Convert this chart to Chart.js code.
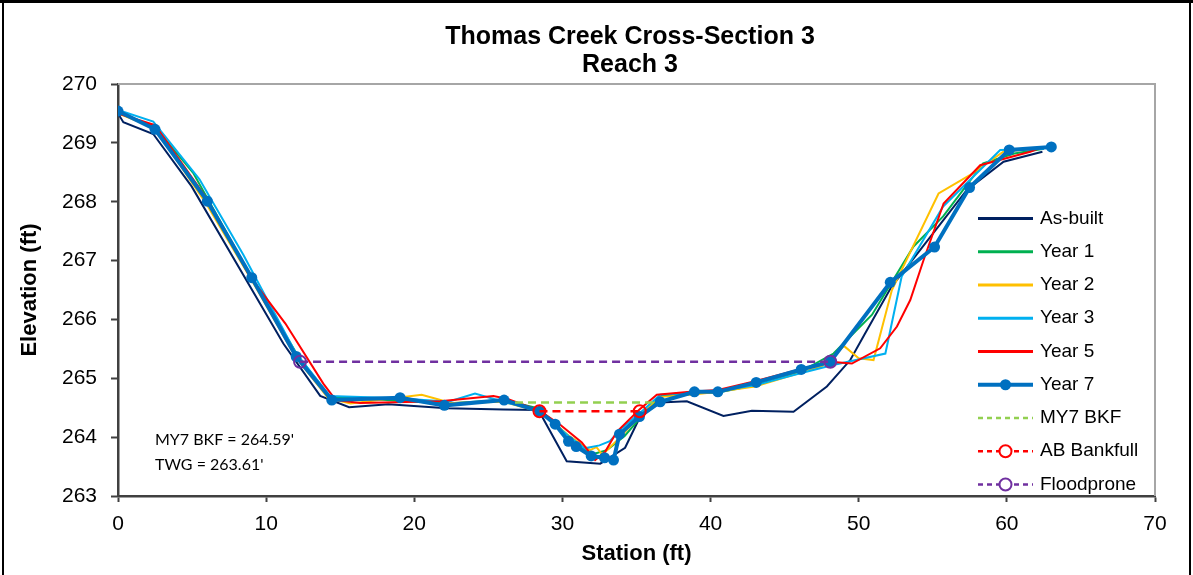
<!DOCTYPE html>
<html>
<head>
<meta charset="utf-8">
<script src="https://cdn.jsdelivr.net/npm/chart.js@4.4.0/dist/chart.umd.min.js"></script>
<style>
  html, body { margin: 0; padding: 0; background: #ffffff; }
  canvas { display: block; }
</style>
</head>
<body>
<canvas id="xs" width="1193" height="575"></canvas>
<script>
// Survey elevations along the cross-section (station ft, elevation ft)
const asBuiltSta  = [0, 0.36, 2.38, 4.97, 11.16, 13.65, 15.6, 18.25, 22.2, 26.02, 28.38, 30.29, 32.55, 34.23, 35.25, 36.6, 38.4, 40.87, 42.79, 45.6, 47.85, 49.43, 50.4, 52.2, 57.3, 59.78, 62.4];
const asBuiltElev = [269.5, 269.35, 269.15, 268.26, 265.59, 264.70, 264.51, 264.56, 264.49, 264.47, 264.46, 263.59, 263.55, 263.82, 264.35, 264.59, 264.61, 264.36, 264.45, 264.43, 264.86, 265.31, 265.75, 266.55, 268.2, 268.68, 268.85];

const year1Sta  = [0, 2.5, 5.1, 9.0, 12.1, 14.3, 19, 22.2, 26.0, 28.4, 30.5, 31.9, 33.0, 34.2, 35.5, 36.7, 38.9, 40.5, 43, 46, 48.3, 50.9, 53.7, 55.7, 58.4, 60.5, 62.5];
const year1Elev = [269.52, 269.27, 268.48, 266.72, 265.4, 264.68, 264.62, 264.57, 264.63, 264.49, 264.0, 263.70, 263.78, 264.02, 264.4, 264.7, 264.75, 264.76, 264.88, 265.1, 265.42, 266.08, 267.24, 267.75, 268.65, 268.82, 268.9];

const year2Sta  = [0, 2.5, 6.0, 9.0, 12.0, 14.2, 15.7, 20.5, 22.5, 26, 28.5, 30.3, 31.86, 32.3, 32.7, 33.7, 35.2, 36.5, 39, 40.5, 43, 45.5, 47.5, 49.0, 50.0, 51.0, 52.24, 55.39, 57.5, 59.76, 62.5];
const year2Elev = [269.5, 269.25, 267.95, 266.68, 265.36, 264.66, 264.57, 264.72, 264.58, 264.6, 264.43, 264.05, 263.78, 263.83, 263.70, 263.95, 264.35, 264.68, 264.73, 264.77, 264.86, 265.05, 265.2, 265.55, 265.34, 265.31, 266.5, 268.14, 268.45, 268.85, 268.92];

const year3Sta  = [0, 2.38, 5.5, 8.46, 12.0, 14.3, 19, 22.3, 24.1, 26.3, 28.4, 30.5, 31.5, 32.5, 33.2, 34.0, 35.2, 36.6, 39, 40.5, 43, 46, 48.2, 51.8, 52.9, 55.7, 59.55, 62.5];
const year3Elev = [269.56, 269.36, 268.38, 267.1, 265.43, 264.7, 264.66, 264.6, 264.74, 264.58, 264.46, 264.0, 263.81, 263.86, 263.93, 264.15, 264.4, 264.72, 264.76, 264.78, 264.88, 265.08, 265.22, 265.42, 266.73, 267.92, 268.88, 268.9];

const year5Sta  = [0, 2.5, 6.0, 8.9, 11.3, 13.86, 14.7, 16.34, 21.74, 25.34, 26.3, 28.45, 29.85, 31.31, 32.21, 32.88, 33.67, 35.2, 36.37, 38.62, 40.5, 43, 46, 48.08, 49.54, 51.45, 52.58, 53.48, 54.38, 55.73, 58.2, 61.58, 62.3];
const year5Elev = [269.5, 269.3, 268.05, 266.73, 265.93, 264.91, 264.63, 264.58, 264.61, 264.70, 264.65, 264.45, 264.21, 263.91, 263.61, 263.75, 264.09, 264.47, 264.72, 264.77, 264.8, 264.95, 265.15, 265.28, 265.25, 265.51, 265.88, 266.33, 267.01, 267.97, 268.62, 268.85, 268.92];

const year7Sta  = [0, 2.5, 6.03, 9.03, 12.03, 14.43, 19.04, 22.03, 26.06, 28.45, 29.51, 30.41, 30.93, 31.94, 32.84, 33.45, 33.85, 35.2, 36.6, 38.91, 40.49, 43.08, 46.12, 48.08, 52.13, 55.12, 57.48, 60.16, 63.0];
const year7Elev = [269.54, 269.23, 268.01, 266.71, 265.37, 264.63, 264.67, 264.54, 264.63, 264.44, 264.22, 263.93, 263.84, 263.68, 263.65, 263.61, 264.05, 264.35, 264.60, 264.77, 264.77, 264.93, 265.15, 265.28, 266.63, 267.23, 268.24, 268.88, 268.93];

// Reference water levels
const bkfElev = 264.59;        // MY7 bankfull
const twgElev = 263.61;        // thalweg
const bkfSta  = [26.8, 36.4];
const abBankfullElev = 264.44;
const abBankfullSta  = [28.45, 35.22];
const floodproneElev = 265.28;
const floodproneSta  = [12.29, 48.08];

// Axis ticks
const stationTicks   = [0, 10, 20, 30, 40, 50, 60, 70];
const elevationTicks = [263, 264, 265, 266, 267, 268, 269, 270];

const titleLines = ['Thomas Creek Cross-Section 3', 'Reach 3'];
const notes = ["MY7 BKF = " + bkfElev.toFixed(2) + "'", "TWG = " + twgElev.toFixed(2) + "'"];

const pts = (sta, elev) => sta.map((s, i) => ({ x: s, y: Array.isArray(elev) ? elev[i] : elev }));

const surveyLine = (label, sta, elev, color, order) => ({
  label, data: pts(sta, elev), showLine: true, borderColor: color, backgroundColor: color,
  borderWidth: 2, pointRadius: 0, tension: 0, order
});

const datasets = [
  surveyLine('As-built', asBuiltSta, asBuiltElev, '#002060', 9),
  surveyLine('Year 1', year1Sta, year1Elev, '#00B050', 8),
  surveyLine('Year 2', year2Sta, year2Elev, '#FFC000', 7),
  surveyLine('Year 3', year3Sta, year3Elev, '#00B0F0', 6),
  surveyLine('Year 5', year5Sta, year5Elev, '#FF0000', 5),
  {
    label: 'Year 7', data: pts(year7Sta, year7Elev), showLine: true,
    borderColor: '#0070C0', backgroundColor: '#0070C0', borderWidth: 4,
    pointRadius: 5.5, pointBorderWidth: 0, pointBackgroundColor: '#0070C0', tension: 0, order: 4
  },
  {
    label: 'MY7 BKF', data: pts(bkfSta, bkfElev), showLine: true,
    borderColor: '#92D050', backgroundColor: '#92D050', borderWidth: 2.5, borderDash: [8, 5],
    pointRadius: 0, order: 3
  },
  {
    label: 'AB Bankfull', data: pts(abBankfullSta, abBankfullElev), showLine: true,
    borderColor: '#FF0000', backgroundColor: 'rgba(0,0,0,0)', borderWidth: 2.5, borderDash: [8, 5],
    pointRadius: 6, pointBorderWidth: 2, pointBorderColor: '#FF0000', pointBackgroundColor: 'rgba(0,0,0,0)', order: 2
  },
  {
    label: 'Floodprone', data: pts(floodproneSta, floodproneElev), showLine: true,
    borderColor: '#7030A0', backgroundColor: 'rgba(0,0,0,0)', borderWidth: 2.5, borderDash: [8, 5],
    pointRadius: 6, pointBorderWidth: 2, pointBorderColor: '#7030A0', pointBackgroundColor: 'rgba(0,0,0,0)', order: 1
  }
];

const AXIS_FONT = 'Liberation Sans, Arial, sans-serif';

// Outer frame, plot border, title, notes and the legend
const decorations = {
  id: 'decorations',
  beforeDraw(chart) {
    const ctx = chart.ctx;
    ctx.save();
    ctx.fillStyle = '#ffffff';
    ctx.fillRect(0, 0, chart.width, chart.height);
    ctx.restore();
  },
  beforeDatasetsDraw(chart) {
    const { ctx, chartArea: a } = chart;
    ctx.save();
    ctx.strokeStyle = '#A6A6A6';
    ctx.lineWidth = 2;
    ctx.beginPath();
    ctx.moveTo(a.left, a.top);
    ctx.lineTo(a.right, a.top);
    ctx.lineTo(a.right, a.bottom);
    ctx.stroke();
    ctx.restore();
  },
  afterDraw(chart) {
    const { ctx } = chart;
    ctx.save();
    // frame
    ctx.strokeStyle = '#000000';
    ctx.lineWidth = 2;
    ctx.strokeRect(3, 2, chart.width - 6, chart.height + 20);
    ctx.fillStyle = '#000000';
    ctx.fillRect(0, 0, chart.width, 3);

    // title
    ctx.font = 'bold 25px ' + AXIS_FONT;
    ctx.textAlign = 'center';
    ctx.textBaseline = 'middle';
    ctx.fillText(titleLines[0], 630, 37);
    ctx.fillText(titleLines[1], 630, 65);

    // notes
    ctx.font = '16px Lato, "Open Sans", sans-serif';
    ctx.textAlign = 'left';
    ctx.fillText(notes[0], 155, 440);
    ctx.fillText(notes[1], 155, 465);

    // legend
    const x0 = 978, x1 = 1033, tx = 1040, y0 = 218.5, dy = 33.25;
    ctx.font = '19px ' + AXIS_FONT;
    chart.data.datasets.forEach((ds, i) => {
      const y = y0 + i * dy;
      ctx.save();
      ctx.strokeStyle = ds.borderColor;
      ctx.lineWidth = ds.label === 'Year 7' ? 4 : (ds.borderDash ? 2.5 : 3);
      ctx.setLineDash(ds.borderDash ? [5, 4] : []);
      ctx.beginPath();
      ctx.moveTo(x0, y);
      ctx.lineTo(x1, y);
      ctx.stroke();
      ctx.setLineDash([]);
      const mx = (x0 + x1) / 2;
      if (ds.label === 'Year 7') {
        ctx.fillStyle = ds.pointBackgroundColor;
        ctx.beginPath();
        ctx.arc(mx, y, 5.5, 0, Math.PI * 2);
        ctx.fill();
      } else if (ds.pointRadius > 0) {
        ctx.fillStyle = '#ffffff';
        ctx.strokeStyle = ds.pointBorderColor;
        ctx.lineWidth = 2;
        ctx.beginPath();
        ctx.arc(mx, y, 6, 0, Math.PI * 2);
        ctx.fill();
        ctx.stroke();
      }
      ctx.restore();
      ctx.fillStyle = '#000000';
      ctx.textAlign = 'left';
      ctx.textBaseline = 'middle';
      ctx.fillText(ds.label, tx, y);
    });
    ctx.restore();
  }
};

new Chart(document.getElementById('xs'), {
  type: 'scatter',
  data: { datasets },
  plugins: [decorations],
  options: {
    responsive: false,
    animation: false,
    devicePixelRatio: 1,
    layout: { padding: { left: 5, right: 38, top: 84, bottom: 0 } },
    plugins: { legend: { display: false }, tooltip: { enabled: false }, title: { display: false } },
    scales: {
      x: {
        type: 'linear', min: 0, max: 70,
        afterBuildTicks: s => { s.ticks = stationTicks.map(v => ({ value: v })); },
        afterFit: s => { s.height = 79; },
        ticks: { color: '#000000', font: { family: AXIS_FONT, size: 21 }, padding: 10, maxRotation: 0 },
        grid: { drawOnChartArea: false, drawTicks: true, tickLength: 6, tickColor: '#404040', tickWidth: 2 },
        border: { display: true, color: '#404040', width: 2.5 },
        title: { display: true, text: 'Station (ft)', color: '#000000', font: { family: AXIS_FONT, size: 22, weight: 'bold' }, padding: { top: 0, bottom: 8 } }
      },
      y: {
        type: 'linear', min: 263, max: 270,
        afterBuildTicks: s => { s.ticks = elevationTicks.map(v => ({ value: v })); },
        afterFit: s => { s.width = 113; },
        ticks: { color: '#000000', font: { family: AXIS_FONT, size: 21 }, padding: 14 },
        grid: { drawOnChartArea: false, drawTicks: true, tickLength: 7, tickColor: '#404040', tickWidth: 2 },
        border: { display: true, color: '#404040', width: 2.5 },
        title: { display: true, text: 'Elevation (ft)', color: '#000000', font: { family: AXIS_FONT, size: 22, weight: 'bold' }, padding: { top: 12, bottom: 0 } }
      }
    }
  }
});
</script>
</body>
</html>
